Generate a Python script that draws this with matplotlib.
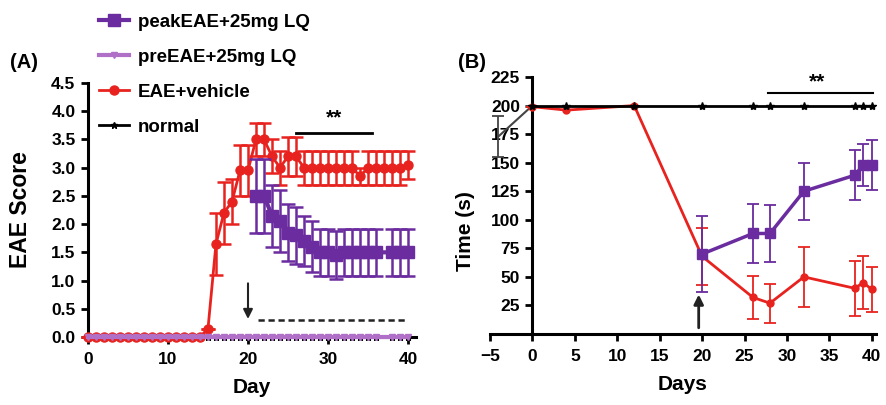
import matplotlib.pyplot as plt
import numpy as np

plt.rcParams['font.family'] = ['Liberation Sans', 'DejaVu Sans']
plt.rcParams['font.weight'] = 'bold'

PEAK = '#6a2c9e'
PRE = '#b070c8'
RED = '#e8231f'

# ---- panel A data ----
days_a = list(range(0, 37)) + [38, 39, 40]
zeros_a = [0.0] * len(days_a)

veh_days = list(range(0, 15)) + [15, 16, 17, 18, 19, 20, 21, 22, 23, 24, 25, 26, 27, 28,
                                29, 30, 31, 32, 33, 34, 35, 36, 37, 38, 39, 40]
veh_score = [0.0] * 15 + [0.15, 1.65, 2.2, 2.4, 2.95, 2.95, 3.5, 3.5, 3.2, 3.0, 3.2, 3.2, 3.0, 3.0,
                          3.0, 3.0, 3.0, 3.0, 3.0, 2.85, 3.0, 3.0, 3.0, 3.0, 3.0, 3.05]
veh_err = [0.0] * 15 + [0.0, 0.55, 0.55, 0.4, 0.45, 0.45, 0.3, 0.3, 0.3, 0.3, 0.35, 0.35, 0.3, 0.3,
                        0.3, 0.3, 0.3, 0.3, 0.3, 0.15, 0.3, 0.3, 0.3, 0.3, 0.3, 0.25]

peak_days = [21, 22, 23, 24, 25, 26, 27, 28, 29, 30, 31, 32, 33, 34, 35, 36, 38, 39, 40]
peak_score = [2.5, 2.5, 2.15, 2.05, 1.85, 1.8, 1.7, 1.6, 1.5, 1.5, 1.45, 1.5, 1.5, 1.5, 1.5, 1.5,
              1.5, 1.5, 1.5]
peak_err = [0.65, 0.65, 0.55, 0.55, 0.5, 0.5, 0.45, 0.45, 0.42, 0.42, 0.42, 0.42, 0.42, 0.42,
            0.42, 0.42, 0.42, 0.42, 0.42]

# ---- panel B data ----
b_days = [0, 4, 12, 20, 26, 28, 32, 38, 39, 40]
normal_b = [200] * 10
normal_pre_days = [-4, 0]
normal_pre = [173, 200]
normal_pre_err = [18, 0]
veh_b = [199, 196, 200, 68, 32, 27, 50, 40, 45, 39]
veh_b_err = [0, 0, 0, 25, 19, 17, 26, 24, 23, 20]
peak_b_days = [20, 26, 28, 32, 38, 39, 40]
peak_b = [70, 88, 88, 125, 139, 148, 148]
peak_b_err = [33, 26, 25, 25, 22, 18, 22]

fig = plt.figure(figsize=(8.87, 4.05), dpi=100)
axA = fig.add_axes([88 / 887, (405 - 337) / 405, 328 / 887, 254 / 405])
axB = fig.add_axes([490 / 887, (405 - 334) / 405, 386 / 887, 257 / 405])

ebA = dict(capsize=5, elinewidth=1.8, capthick=1.8, clip_on=False)
ebB = dict(capsize=4, elinewidth=1.3, capthick=1.3, clip_on=False)

# panel A
h_norm = axA.errorbar(days_a, zeros_a, color='black', marker='*', ms=5, lw=2, zorder=2,
                      clip_on=False)
h_veh = axA.errorbar(veh_days, veh_score, yerr=veh_err, color=RED, marker='o', ms=6.5, lw=2,
                     zorder=3, **ebA)
h_pre = axA.errorbar(days_a, zeros_a, color=PRE, marker='v', ms=4, lw=3, zorder=4,
                     clip_on=False)
h_peak = axA.errorbar(peak_days, peak_score, yerr=peak_err, color=PEAK, marker='s', ms=8, lw=3,
                      zorder=6, **ebA)

axA.set_xlim(0, 41)
axA.set_ylim(0, 4.5)
axA.set_xticks([0, 10, 20, 30, 40])
axA.set_yticks(np.arange(0, 4.51, 0.5))
axA.set_yticklabels([f'{v:.1f}' for v in np.arange(0, 4.51, 0.5)])
axA.set_xlabel('Day', fontsize=15, fontweight='bold', labelpad=8)
axA.set_ylabel('EAE Score', fontsize=16.5, fontweight='bold')
axA.yaxis.set_label_coords(-0.17, 0.5)
axA.annotate('', xy=(20, 0.27), xytext=(20, 1.0),
             arrowprops=dict(arrowstyle='-|>', color='#222222', lw=1.5, mutation_scale=14))
axA.plot([21.3, 40], [0.31, 0.31], color='#222222', lw=1.8, ls=(0, (2.5, 1.5)))
axA.plot([26, 35.5], [3.62, 3.62], color='black', lw=2)
axA.text(30.7, 3.72, '**', ha='center', va='bottom', fontsize=15, fontweight='bold')
fig.text(10 / 887, 1 - 62 / 405, '(A)', fontsize=14.5, fontweight='bold', va='center')

# panel B
axB.errorbar(normal_pre_days, normal_pre, yerr=normal_pre_err, color='#444444', lw=1.5,
             zorder=3, **ebB)
axB.errorbar(b_days, veh_b, yerr=veh_b_err, color=RED, marker='o', ms=5, lw=2, zorder=4, **ebB)
axB.errorbar(peak_b_days, peak_b, yerr=peak_b_err, color=PEAK, marker='s', ms=7, lw=2.5,
             zorder=5, **ebB)
axB.errorbar(b_days, normal_b, color='black', marker='*', ms=6, lw=2, zorder=6, clip_on=False)

axB.set_xlim(-5, 40.5)
axB.set_ylim(0, 225)
axB.set_xticks(range(-5, 41, 5))
axB.set_xticklabels(['\u22125'] + [str(v) for v in range(0, 41, 5)])
axB.set_yticks(range(25, 226, 25))
axB.spines['left'].set_position(('data', 0))
axB.set_xlabel('Days', fontsize=15, fontweight='bold', labelpad=8)
axB.set_ylabel('Time (s)', fontsize=15, fontweight='bold')
axB.yaxis.set_label_coords(-0.039, 0.40)
axB.annotate('', xy=(19.6, 37), xytext=(19.6, 3),
             arrowprops=dict(arrowstyle='-|>', color='#222222', lw=2, mutation_scale=14))
axB.plot([27.8, 40.2], [211, 211], color='black', lw=1.5, clip_on=False)
axB.text(33.6, 212, '**', ha='center', va='bottom', fontsize=15, fontweight='bold')
fig.text(458 / 887, 1 - 62 / 405, '(B)', fontsize=14.5, fontweight='bold', va='center')

for ax in (axA, axB):
    ax.spines['top'].set_visible(False)
    ax.spines['right'].set_visible(False)
    ax.spines['left'].set_linewidth(2.2)
    ax.spines['bottom'].set_linewidth(2.2)
    ax.tick_params(width=2, length=5, labelsize=12.5)
    ax.tick_params(axis='x', pad=6)
    ax.tick_params(axis='y', pad=4)
    for lab in ax.get_xticklabels() + ax.get_yticklabels():
        lab.set_fontweight('bold')

# legend uses the plain line+marker part of each errorbar
fig.legend([h_peak[0], h_pre[0], h_veh[0], h_norm[0]],
           ['peakEAE+25mg LQ', 'preEAE+25mg LQ', 'EAE+vehicle', 'normal'],
           loc='upper left', bbox_to_anchor=(86 / 887, 0.998), frameon=False,
           prop={'size': 13.5, 'weight': 'bold'}, labelspacing=0.95, handlelength=1.6,
           handletextpad=0.45, borderpad=0.2)

fig.savefig('out.png', dpi=100)
